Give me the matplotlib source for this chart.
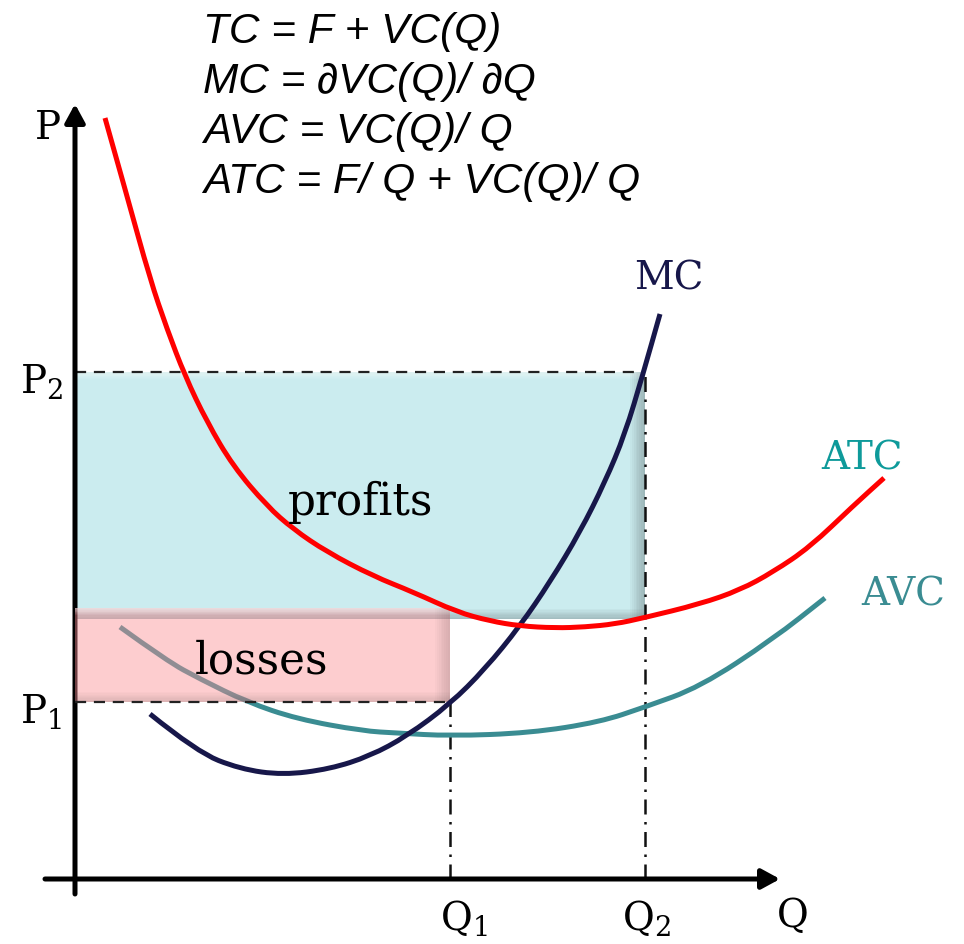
import numpy as np
import matplotlib
matplotlib.use("Agg")
import matplotlib.pyplot as plt
from matplotlib.path import Path
from matplotlib.patches import PathPatch

# cost curves (Q, P in axis units)
atc_q = [0.30, 0.52, 0.75, 0.92, 1.10, 1.32, 1.58, 1.92, 2.18, 2.52, 2.98, 3.38, 3.82,
         4.15, 4.45, 4.80, 5.10, 5.40, 5.68, 6.25, 6.65, 6.98, 7.35, 7.78, 8.09]
atc_p = [7.61, 6.83, 6.00, 5.50, 5.03, 4.57, 4.13, 3.73, 3.50, 3.27, 3.03, 2.87, 2.67,
         2.58, 2.53, 2.51, 2.52, 2.55, 2.61, 2.75, 2.89, 3.07, 3.32, 3.73, 4.01]

mc_q = [0.75, 1.22, 1.65, 2.08, 2.55, 2.95, 3.32, 3.75, 4.10, 4.45, 4.75, 5.05, 5.30,
        5.50, 5.68, 5.85]
mc_p = [1.65, 1.27, 1.10, 1.04, 1.10, 1.23, 1.43, 1.75, 2.10, 2.53, 2.97, 3.47, 3.97,
        4.45, 5.05, 5.65]

avc_q = [0.45, 0.92, 1.25, 1.72, 2.22, 2.88, 3.22, 3.75, 4.55, 5.25, 5.70, 6.25, 6.98, 7.50]
avc_p = [2.52, 2.18, 2.00, 1.77, 1.60, 1.48, 1.46, 1.43, 1.46, 1.57, 1.72, 1.92, 2.40, 2.81]

# key quantities / prices
q1, q2 = 3.75, 5.70
p1, p2 = 1.77, 5.07
atc_at_q1 = 2.71
atc_at_q2 = 2.60

equations = ["TC = F + VC(Q)",
             "MC = \u2202VC(Q)/ \u2202Q",
             "AVC = VC(Q)/ Q",
             "ATC = F/ Q + VC(Q)/ Q"]

plt.rcParams["mathtext.fontset"] = "dejavuserif"

fig = plt.figure(figsize=(9.64, 9.45), dpi=100)
ax = fig.add_axes([0, 0, 1, 1])
ax.set_xlim(-0.75, 8.89)
ax.set_ylim(-0.65, 8.80)
ax.axis("off")


def smooth_curve(ax, xs, ys, **kw):
    # quadratic bezier through the midpoints, like a "smoothed line"
    pts = np.column_stack([xs, ys])
    verts = [pts[0]]
    codes = [Path.MOVETO]
    for i in range(1, len(pts) - 1):
        verts += [pts[i], (pts[i] + pts[i + 1]) / 2]
        codes += [Path.CURVE3, Path.CURVE3]
    verts.append(pts[-1])
    codes.append(Path.LINETO)
    ax.add_patch(PathPatch(Path(verts, codes), fill=False, capstyle="butt", **kw))


def bevel_rect(ax, x0, x1, y0, y1, face, rim, alpha, z, dx=0.15, dy=0.10, n=8):
    # flat box with a darker rim at right/bottom and a light rim on top
    ax.fill_between([x0, x1], y0, y1, color=face, alpha=alpha, lw=0, zorder=z)
    for k in range(n):
        f = (k + 1) / n
        ax.fill_between([x1 - dx * f, x1], y0, y1, color=rim, alpha=0.06 * alpha,
                        lw=0, zorder=z)
        ax.fill_between([x0, x1], y0, y0 + dy * f, color=rim, alpha=0.05 * alpha,
                        lw=0, zorder=z)
        ax.fill_between([x0, x1], y1 - 0.07 * f, y1, color="white", alpha=0.07,
                        lw=0, zorder=z)


# profits / losses boxes
bevel_rect(ax, 0, q2, atc_at_q2, p2, "#cbecef", "#5f6f70", 1.0, 1)
bevel_rect(ax, 0, q1, p1, atc_at_q1, "#fb9096", "#5a4a4a", 0.45, 4)

# guide lines
ax.plot([0, q2], [p2, p2], color="#222222", lw=1.6, ls=(0, (5, 3.5)), zorder=2.5)
ax.plot([0, q1], [p1, p1], color="#222222", lw=1.6, ls=(0, (5, 3.5)), zorder=4.5)
ax.plot([q1, q1], [0, p1], color="#111111", lw=1.8, ls=(0, (6, 3, 1, 3)), zorder=2.5)
ax.plot([q2, q2], [0, p2], color="#111111", lw=1.8, ls=(0, (6, 3, 1, 3)), zorder=2.5)

# axes with arrow heads
arrow = dict(arrowstyle="-|>,head_length=1.1,head_width=0.6", lw=3.6, color="black",
             shrinkA=0, shrinkB=0, mutation_scale=10)
ax.annotate("", xy=(0, 7.75), xytext=(0, -0.15), arrowprops=arrow, zorder=3)
ax.annotate("", xy=(7.05, 0), xytext=(-0.30, 0), arrowprops=arrow, zorder=3)

# curves
smooth_curve(ax, avc_q, avc_p, edgecolor="#3a8c92", lw=3.6, zorder=3)
smooth_curve(ax, mc_q, mc_p, edgecolor="#17174a", lw=3.6, zorder=5)
smooth_curve(ax, atc_q, atc_p, edgecolor="#ff0000", lw=3.6, zorder=5)

# text
serif = "DejaVu Serif"
for i, eq in enumerate(equations):
    ax.text(1.28, 8.37 - 0.50 * i, eq, fontsize=30.5, style="italic",
            family="Liberation Sans", va="baseline", ha="left")

ax.text(-0.40, 7.41, "P", fontsize=28, family=serif, va="baseline")
ax.text(-0.55, 4.87, r"$\mathrm{P}_2$", fontsize=28, va="baseline")
ax.text(-0.55, 1.57, r"$\mathrm{P}_1$", fontsize=28, va="baseline")
ax.text(3.65, -0.50, r"$\mathrm{Q}_1$", fontsize=28, va="baseline")
ax.text(5.47, -0.50, r"$\mathrm{Q}_2$", fontsize=28, va="baseline")
ax.text(7.02, -0.47, "Q", fontsize=28, family=serif, va="baseline")

ax.text(5.94, 5.90, "MC", fontsize=28, family=serif, color="#17174a",
        ha="center", va="baseline")
ax.text(7.87, 4.10, "ATC", fontsize=28, family=serif, color="#0e9a9a",
        ha="center", va="baseline")
ax.text(8.28, 2.75, "AVC", fontsize=28, family=serif, color="#3a8c92",
        ha="center", va="baseline")
ax.text(2.85, 3.65, "profits", fontsize=31.5, family=serif, ha="center",
        va="baseline", zorder=6)
ax.text(1.86, 2.07, "losses", fontsize=31.5, family=serif, ha="center",
        va="baseline", zorder=6)

fig.savefig("out.png", dpi=100)
